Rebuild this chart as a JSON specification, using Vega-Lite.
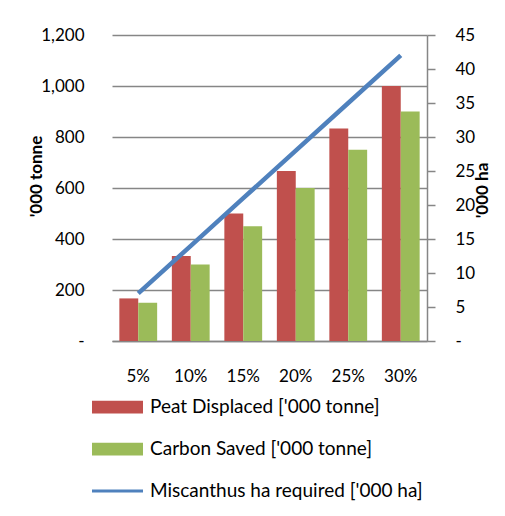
{
  "$schema": "https://vega.github.io/schema/vega-lite/v6.json",
  "width": 315,
  "height": 306,
  "autosize": "none",
  "padding": {"left": 112, "top": 35, "right": 78, "bottom": 175},
  "background": "white",
  "config": {"font": "Lato", "view": {"stroke": null}},
  "datasets": {
    "bars": [
      {"pct": "5%", "series": "Peat Displaced ['000 tonne]", "value": 167},
      {"pct": "10%", "series": "Peat Displaced ['000 tonne]", "value": 333},
      {"pct": "15%", "series": "Peat Displaced ['000 tonne]", "value": 500},
      {"pct": "20%", "series": "Peat Displaced ['000 tonne]", "value": 667},
      {"pct": "25%", "series": "Peat Displaced ['000 tonne]", "value": 833},
      {"pct": "30%", "series": "Peat Displaced ['000 tonne]", "value": 1000},
      {"pct": "5%", "series": "Carbon Saved ['000 tonne]", "value": 150},
      {"pct": "10%", "series": "Carbon Saved ['000 tonne]", "value": 300},
      {"pct": "15%", "series": "Carbon Saved ['000 tonne]", "value": 450},
      {"pct": "20%", "series": "Carbon Saved ['000 tonne]", "value": 600},
      {"pct": "25%", "series": "Carbon Saved ['000 tonne]", "value": 750},
      {"pct": "30%", "series": "Carbon Saved ['000 tonne]", "value": 900}
    ],
    "line": [
      {"pct": "5%", "series": "Miscanthus ha required ['000 ha]", "ha": 7},
      {"pct": "10%", "series": "Miscanthus ha required ['000 ha]", "ha": 14},
      {"pct": "15%", "series": "Miscanthus ha required ['000 ha]", "ha": 21},
      {"pct": "20%", "series": "Miscanthus ha required ['000 ha]", "ha": 28},
      {"pct": "25%", "series": "Miscanthus ha required ['000 ha]", "ha": 35},
      {"pct": "30%", "series": "Miscanthus ha required ['000 ha]", "ha": 42}
    ]
  },
  "encoding": {
    "x": {
      "field": "pct",
      "type": "nominal",
      "sort": ["5%", "10%", "15%", "20%", "25%", "30%"],
      "scale": {"paddingInner": 0.28, "paddingOuter": 0.14},
      "axis": {
        "title": null,
        "labelAngle": 0,
        "labelFontSize": 17,
        "labelColor": "#000000",
        "labelPadding": 27,
        "ticks": false,
        "domain": true,
        "domainColor": "#868686",
        "domainWidth": 1.5,
        "grid": false
      }
    }
  },
  "layer": [
    {
      "data": {"name": "bars"},
      "mark": {"type": "bar"},
      "encoding": {
        "xOffset": {"field": "series", "type": "nominal", "sort": ["Peat Displaced ['000 tonne]", "Carbon Saved ['000 tonne]"]},
        "y": {
          "field": "value",
          "type": "quantitative",
          "scale": {"domain": [0, 1200], "nice": false},
          "axis": {
            "title": "'000 tonne",
            "titleFontSize": 17,
            "titleFontWeight": "bold",
            "titleColor": "#000000",
            "titleAngle": 270,
            "titleBaseline": "middle",
            "titleAnchor": "middle",
            "titleX": -76,
            "titleY": 141,
            "values": [0, 200, 400, 600, 800, 1000, 1200],
            "labelExpr": "datum.value == 0 ? '-' : format(datum.value, ',')",
            "labelFontSize": 17,
            "labelColor": "#000000",
            "labelPadding": 28,
            "ticks": false,
            "domain": false,
            "grid": true,
            "gridColor": "#868686",
            "gridWidth": 1.5
          }
        },
        "color": {
          "field": "series",
          "type": "nominal",
          "scale": {
            "domain": ["Peat Displaced ['000 tonne]", "Carbon Saved ['000 tonne]", "Miscanthus ha required ['000 ha]"],
            "range": ["#C0504D", "#9BBB59", "#4F81BD"]
          },
          "legend": {
            "title": null,
            "orient": "none",
            "legendX": -20,
            "legendY": 351,
            "direction": "vertical",
            "padding": 0,
            "labelFontSize": 19,
            "labelColor": "#000000",
            "labelLimit": 500,
            "labelOffset": 7,
            "symbolType": "M-1,-0.25H1V0.25H-1Z",
            "symbolSize": 2601,
            "symbolStrokeWidth": 0,
            "clipHeight": 42,
            "rowPadding": 0,
            "encode": {
              "symbols": {
                "update": {
                  "shape": {"signal": "datum.value == \"Miscanthus ha required ['000 ha]\" ? 'M-1,-0.06H1V0.06H-1Z' : 'M-1,-0.25H1V0.25H-1Z'"},
                  "fill": {"scale": "color", "field": "value"},
                  "stroke": {"value": "transparent"},
                  "opacity": {"value": 1}
                }
              }
            }
          }
        }
      }
    },
    {
      "data": {"name": "line"},
      "mark": {"type": "line", "strokeWidth": 4.5},
      "encoding": {
        "y": {
          "field": "ha",
          "type": "quantitative",
          "scale": {"domain": [0, 45], "nice": false},
          "axis": {
            "orient": "right",
            "title": "'000 ha",
            "titleFontSize": 17,
            "titleFontWeight": "bold",
            "titleColor": "#000000",
            "titleAngle": 270,
            "titleBaseline": "middle",
            "titleAnchor": "middle",
            "titleX": 55,
            "titleY": 155,
            "values": [0, 5, 10, 15, 20, 25, 30, 35, 40, 45],
            "labelExpr": "datum.value == 0 ? '-' : format(datum.value, ',')",
            "labelFontSize": 17,
            "labelColor": "#000000",
            "labelPadding": 20,
            "ticks": true,
            "tickSize": 8,
            "tickColor": "#868686",
            "tickWidth": 1.5,
            "domain": true,
            "domainColor": "#868686",
            "domainWidth": 1.5,
            "grid": false
          }
        },
        "color": {"field": "series", "type": "nominal"}
      }
    }
  ],
  "resolve": {"scale": {"y": "independent"}}
}
